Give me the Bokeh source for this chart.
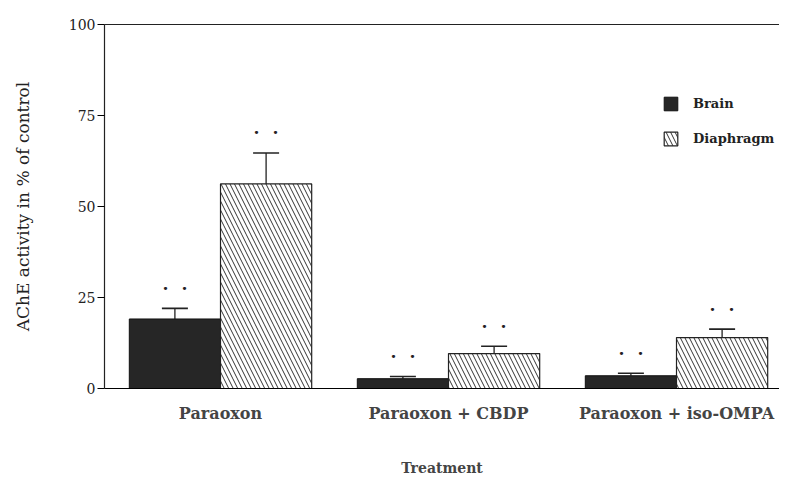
from bokeh.plotting import figure
from bokeh.models import (ColumnDataSource, Range1d, Whisker, Legend, LegendItem,
                          FixedTicker, LinearAxis)
from bokeh.transform import dodge
from bokeh.core.properties import value
from bokeh.embed import file_html
from bokeh.resources import INLINE

categories = ["Paraoxon", "Paraoxon + CBDP", "Paraoxon + iso-OMPA"]
brain = [19.1, 2.7, 3.5]
brain_err = [2.9, 0.6, 0.7]
diaphragm = [56.2, 9.6, 14.0]
diaphragm_err = [8.5, 2.0, 2.3]
y_ticks = [0, 25, 50, 75, 100]

xpos = list(range(len(categories)))
src = ColumnDataSource(dict(
    x=xpos,
    brain=brain,
    brain_top=[v + e for v, e in zip(brain, brain_err)],
    dia=diaphragm,
    dia_top=[v + e for v, e in zip(diaphragm, diaphragm_err)],
    dot=["\u2022"] * len(categories),
))

SERIF = "DejaVu Serif"
INK = "#222222"
PX_PER_GROUP = 228
FRAME_W = 675
x_start = -0.5 - 2 / PX_PER_GROUP
x_end = x_start + FRAME_W / PX_PER_GROUP

p = figure(x_range=Range1d(x_start, x_end), y_range=Range1d(0, 100),
           frame_width=FRAME_W, frame_height=364,
           min_border_left=104, min_border_right=0, min_border_top=24, min_border_bottom=70,
           output_backend="svg", toolbar_location=None)

r_brain = p.vbar(x=dodge("x", -0.2), top="brain", width=0.4, source=src,
                 fill_color="#262626", line_color="#111111", line_width=1)
r_dia = p.vbar(x=dodge("x", 0.2), top="dia", width=0.4, source=src,
               fill_color="white", line_color=INK, line_width=1.2,
               hatch_pattern="\\", hatch_color="#333333", hatch_scale=9, hatch_weight=1)

for off, lo, hi in [(-0.2, "brain", "brain_top"), (0.2, "dia", "dia_top")]:
    w = Whisker(base=dodge("x", off), lower=lo, upper=hi, source=src,
                line_color=INK, line_width=1.3, lower_head=None)
    w.upper_head.size = 26
    w.upper_head.line_color = INK
    w.upper_head.line_width = 1.6
    p.add_layout(w)
    for dx in (-9.5, 9.5):
        p.text(x=dodge("x", off), y=hi, text="dot", source=src,
               text_font=value("DejaVu Sans"), text_font_size="11px", text_align="center",
               text_baseline="middle", x_offset=dx, y_offset=-20, text_color=INK)

legend = Legend(items=[LegendItem(label="Brain", renderers=[r_brain]),
                       LegendItem(label="Diaphragm", renderers=[r_dia])],
                location=(558, 241), orientation="vertical",
                glyph_width=17, glyph_height=17, spacing=18, padding=0, margin=0,
                label_text_font=SERIF, label_text_font_size="13px", label_text_font_style="bold",
                label_standoff=14, label_text_color=INK,
                border_line_color=None, background_fill_alpha=0)
p.add_layout(legend)

p.yaxis.ticker = FixedTicker(ticks=y_ticks)
p.yaxis.axis_label = "AChE activity in % of control"
p.yaxis.axis_label_text_font = SERIF
p.yaxis.axis_label_text_font_style = "normal"
p.yaxis.axis_label_text_font_size = "17px"
p.yaxis.axis_label_standoff = 33
p.yaxis.major_label_text_font = SERIF
p.yaxis.major_label_text_font_size = "14px"
p.yaxis.major_tick_out = 7
p.yaxis.major_tick_in = 0
p.yaxis.minor_tick_line_color = None
p.yaxis.major_label_standoff = 2

p.xaxis.ticker = FixedTicker(ticks=xpos)
p.xaxis.major_label_overrides = {i: c for i, c in zip(xpos, categories)}
p.xaxis.axis_label = "Treatment"
p.xaxis.axis_label_text_font = SERIF
p.xaxis.axis_label_text_font_style = "bold"
p.xaxis.axis_label_text_font_size = "14px"
p.xaxis.axis_label_standoff = 34
p.xaxis.major_label_text_font = SERIF
p.xaxis.major_label_text_font_style = "bold"
p.xaxis.major_label_text_font_size = "16px"
p.xaxis.major_tick_line_color = None
p.xaxis.minor_tick_line_color = None
p.xaxis.major_label_standoff = 9

top_axis = LinearAxis(ticker=FixedTicker(ticks=[]), major_tick_line_color=None,
                      minor_tick_line_color=None, axis_line_color=INK,
                      axis_line_width=1.2)
p.add_layout(top_axis, "above")

for ax in (p.xaxis[0], p.yaxis[0]):
    ax.axis_line_color = INK
    ax.axis_line_width = 1.2
    ax.major_label_text_color = INK
    ax.axis_label_text_color = INK

p.grid.grid_line_color = None
p.outline_line_color = None

open("out.html", "w").write(file_html(p, INLINE))
